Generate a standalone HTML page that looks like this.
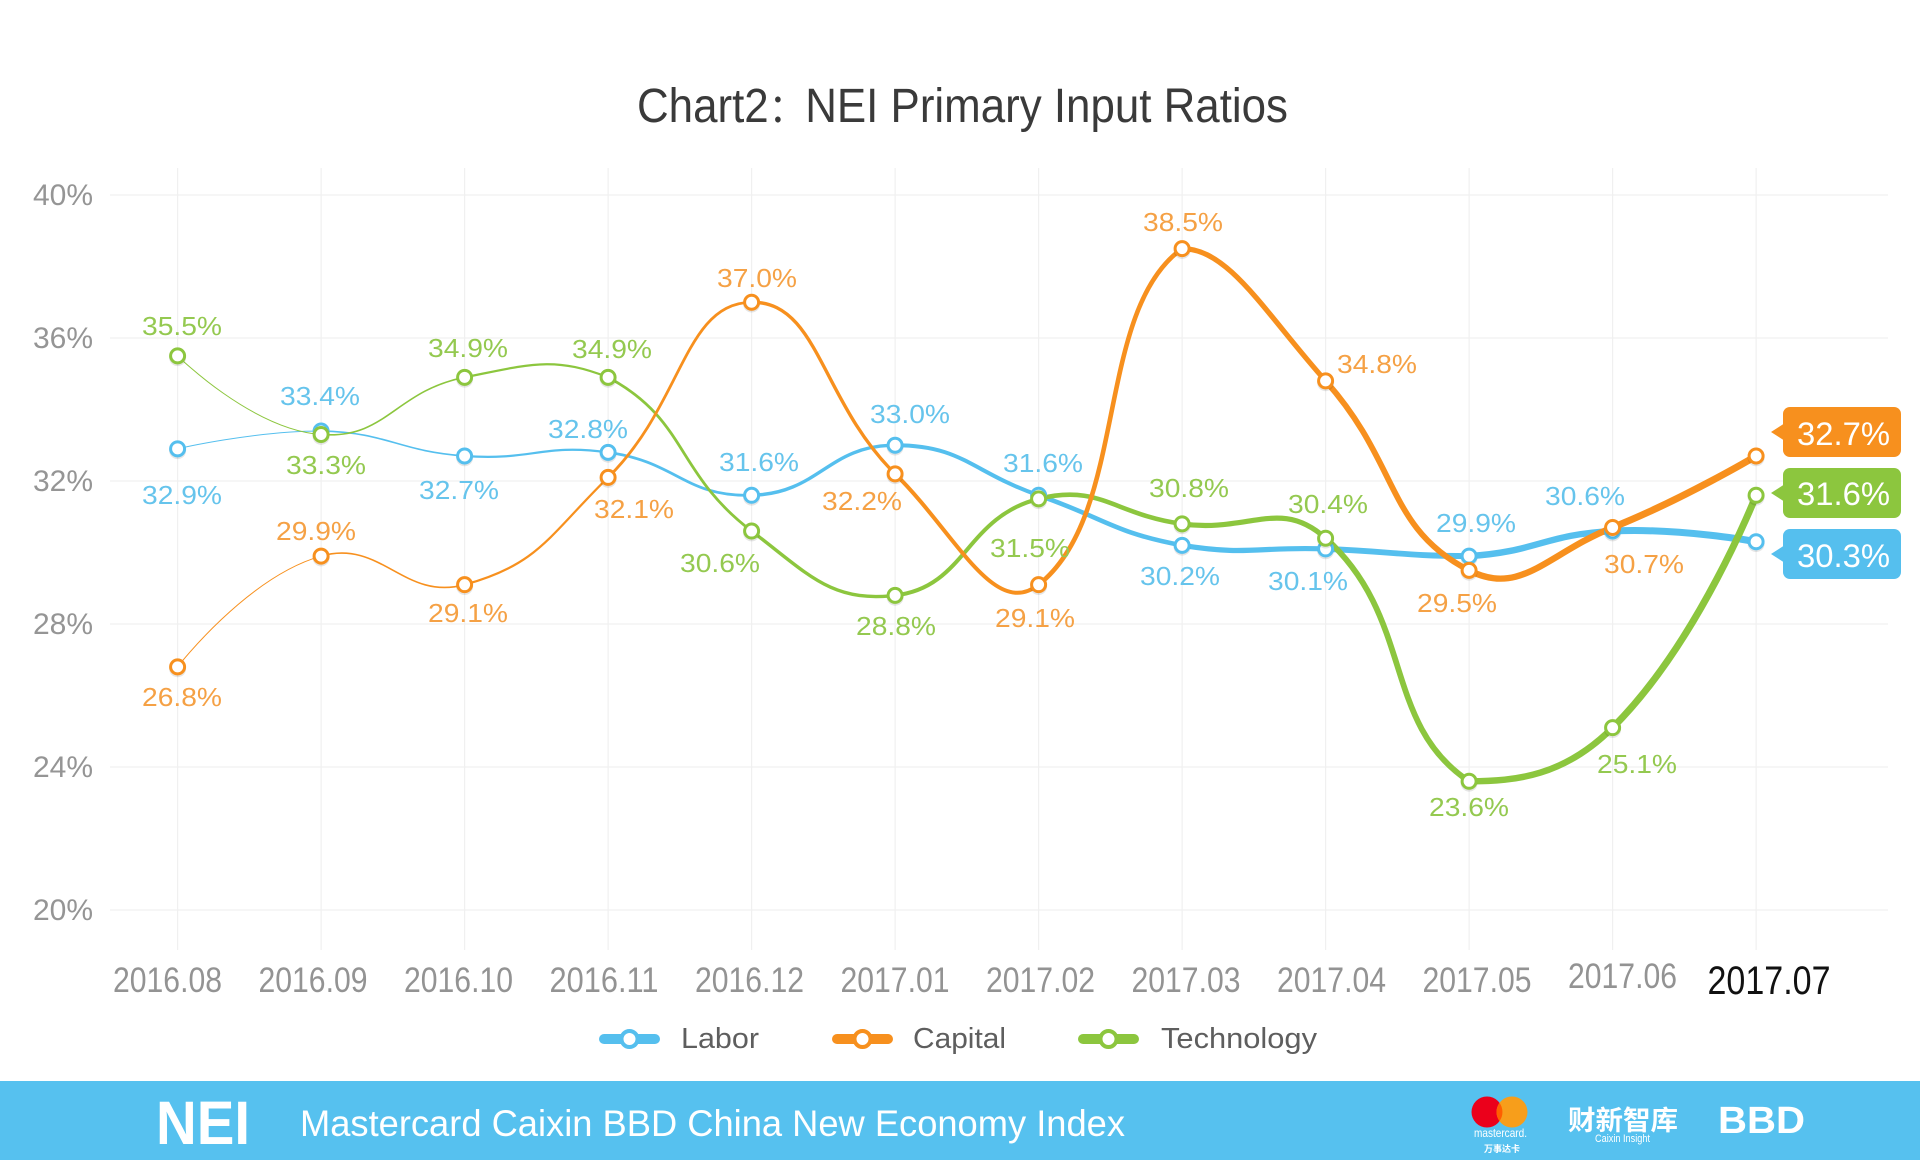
<!DOCTYPE html>
<html>
<head>
<meta charset="utf-8">
<style>
  html,body{margin:0;padding:0;background:#fff;}
  svg{display:block;}
  text{font-family:"Liberation Sans","Noto Sans CJK SC",sans-serif;}
</style>
</head>
<body>
<svg id="chart" width="1920" height="1160" viewBox="0 0 1920 1160" xmlns="http://www.w3.org/2000/svg">
  <rect x="0" y="0" width="1920" height="1160" fill="#ffffff"/>

  <!-- Title -->
  <text x="637" y="122" font-size="48" fill="#3a3a3a" textLength="651" lengthAdjust="spacingAndGlyphs">Chart2<tspan font-size="40">：</tspan>NEI Primary Input Ratios</text>

  <!-- Grid -->
  <g stroke="#f0f0f0" stroke-width="1.2" fill="none">
    <line x1="110" y1="195" x2="1888" y2="195"/>
    <line x1="110" y1="338" x2="1888" y2="338"/>
    <line x1="110" y1="481" x2="1888" y2="481"/>
    <line x1="110" y1="624" x2="1888" y2="624"/>
    <line x1="110" y1="767" x2="1888" y2="767"/>
    <line x1="110" y1="910" x2="1888" y2="910"/>
    <line x1="177.6" y1="168" x2="177.6" y2="950"/>
    <line x1="321.1" y1="168" x2="321.1" y2="950"/>
    <line x1="464.6" y1="168" x2="464.6" y2="950"/>
    <line x1="608.1" y1="168" x2="608.1" y2="950"/>
    <line x1="751.6" y1="168" x2="751.6" y2="950"/>
    <line x1="895.1" y1="168" x2="895.1" y2="950"/>
    <line x1="1038.6" y1="168" x2="1038.6" y2="950"/>
    <line x1="1182.1" y1="168" x2="1182.1" y2="950"/>
    <line x1="1325.6" y1="168" x2="1325.6" y2="950"/>
    <line x1="1469.1" y1="168" x2="1469.1" y2="950"/>
    <line x1="1612.6" y1="168" x2="1612.6" y2="950"/>
    <line x1="1756.1" y1="168" x2="1756.1" y2="950"/>
  </g>

  <!-- Y axis labels -->
  <g font-size="30" fill="#959595" text-anchor="end">
    <text x="93" y="205">40%</text>
    <text x="93" y="348">36%</text>
    <text x="93" y="491">32%</text>
    <text x="93" y="634">28%</text>
    <text x="93" y="777">24%</text>
    <text x="93" y="920">20%</text>
  </g>

  <!-- X axis labels -->
  <g font-size="35" fill="#939393" text-anchor="middle">
    <text x="167.5" y="992" textLength="109" lengthAdjust="spacingAndGlyphs">2016.08</text>
    <text x="313" y="992" textLength="109" lengthAdjust="spacingAndGlyphs">2016.09</text>
    <text x="458.5" y="992" textLength="109" lengthAdjust="spacingAndGlyphs">2016.10</text>
    <text x="604" y="992" textLength="109" lengthAdjust="spacingAndGlyphs">2016.11</text>
    <text x="749.5" y="992" textLength="109" lengthAdjust="spacingAndGlyphs">2016.12</text>
    <text x="895" y="992" textLength="109" lengthAdjust="spacingAndGlyphs">2017.01</text>
    <text x="1040.5" y="992" textLength="109" lengthAdjust="spacingAndGlyphs">2017.02</text>
    <text x="1186" y="992" textLength="109" lengthAdjust="spacingAndGlyphs">2017.03</text>
    <text x="1331.5" y="992" textLength="109" lengthAdjust="spacingAndGlyphs">2017.04</text>
    <text x="1477" y="992" textLength="109" lengthAdjust="spacingAndGlyphs">2017.05</text>
    <text x="1622.5" y="988" textLength="109" lengthAdjust="spacingAndGlyphs">2017.06</text>
  </g>
  <text x="1769" y="994" font-size="40" fill="#111111" text-anchor="middle" textLength="123" lengthAdjust="spacingAndGlyphs">2017.07</text>

  <!-- Lines drawn by script -->
  <g id="lines" fill="none" stroke-linecap="round" stroke-linejoin="round"></g>
  <g id="markers"></g>

  <!-- Data labels: Labor -->
  <g font-size="26" fill="#66c4ec" text-anchor="middle">
    <text x="182" y="504" textLength="80" lengthAdjust="spacingAndGlyphs">32.9%</text>
    <text x="320" y="405" textLength="80" lengthAdjust="spacingAndGlyphs">33.4%</text>
    <text x="459" y="499" textLength="80" lengthAdjust="spacingAndGlyphs">32.7%</text>
    <text x="588" y="438" textLength="80" lengthAdjust="spacingAndGlyphs">32.8%</text>
    <text x="759" y="471" textLength="80" lengthAdjust="spacingAndGlyphs">31.6%</text>
    <text x="910" y="423" textLength="80" lengthAdjust="spacingAndGlyphs">33.0%</text>
    <text x="1043" y="472" textLength="80" lengthAdjust="spacingAndGlyphs">31.6%</text>
    <text x="1180" y="585" textLength="80" lengthAdjust="spacingAndGlyphs">30.2%</text>
    <text x="1308" y="590" textLength="80" lengthAdjust="spacingAndGlyphs">30.1%</text>
    <text x="1476" y="532" textLength="80" lengthAdjust="spacingAndGlyphs">29.9%</text>
    <text x="1585" y="505" textLength="80" lengthAdjust="spacingAndGlyphs">30.6%</text>
  </g>
  <!-- Data labels: Capital -->
  <g font-size="26" fill="#f5a145" text-anchor="middle">
    <text x="182" y="706" textLength="80" lengthAdjust="spacingAndGlyphs">26.8%</text>
    <text x="316" y="540" textLength="80" lengthAdjust="spacingAndGlyphs">29.9%</text>
    <text x="468" y="622" textLength="80" lengthAdjust="spacingAndGlyphs">29.1%</text>
    <text x="634" y="518" textLength="80" lengthAdjust="spacingAndGlyphs">32.1%</text>
    <text x="757" y="287" textLength="80" lengthAdjust="spacingAndGlyphs">37.0%</text>
    <text x="862" y="510" textLength="80" lengthAdjust="spacingAndGlyphs">32.2%</text>
    <text x="1035" y="627" textLength="80" lengthAdjust="spacingAndGlyphs">29.1%</text>
    <text x="1183" y="231" textLength="80" lengthAdjust="spacingAndGlyphs">38.5%</text>
    <text x="1377" y="373" textLength="80" lengthAdjust="spacingAndGlyphs">34.8%</text>
    <text x="1457" y="612" textLength="80" lengthAdjust="spacingAndGlyphs">29.5%</text>
    <text x="1644" y="573" textLength="80" lengthAdjust="spacingAndGlyphs">30.7%</text>
  </g>
  <!-- Data labels: Technology -->
  <g font-size="26" fill="#94c950" text-anchor="middle">
    <text x="182" y="335" textLength="80" lengthAdjust="spacingAndGlyphs">35.5%</text>
    <text x="326" y="474" textLength="80" lengthAdjust="spacingAndGlyphs">33.3%</text>
    <text x="468" y="357" textLength="80" lengthAdjust="spacingAndGlyphs">34.9%</text>
    <text x="612" y="358" textLength="80" lengthAdjust="spacingAndGlyphs">34.9%</text>
    <text x="720" y="572" textLength="80" lengthAdjust="spacingAndGlyphs">30.6%</text>
    <text x="896" y="635" textLength="80" lengthAdjust="spacingAndGlyphs">28.8%</text>
    <text x="1030" y="557" textLength="80" lengthAdjust="spacingAndGlyphs">31.5%</text>
    <text x="1189" y="497" textLength="80" lengthAdjust="spacingAndGlyphs">30.8%</text>
    <text x="1328" y="513" textLength="80" lengthAdjust="spacingAndGlyphs">30.4%</text>
    <text x="1469" y="816" textLength="80" lengthAdjust="spacingAndGlyphs">23.6%</text>
    <text x="1637" y="773" textLength="80" lengthAdjust="spacingAndGlyphs">25.1%</text>
  </g>

  <!-- End tags -->
  <g>
    <rect x="1783" y="407" width="118" height="50" rx="7" fill="#f7901e"/>
    <polygon points="1771,432 1785,423 1785,441" fill="#f7901e"/>
    <text x="1797" y="445" font-size="32" fill="#ffffff" textLength="93" lengthAdjust="spacingAndGlyphs">32.7%</text>

    <rect x="1783" y="468" width="118" height="50" rx="7" fill="#8cc63e"/>
    <polygon points="1771,493 1785,484 1785,502" fill="#8cc63e"/>
    <text x="1797" y="505" font-size="32" fill="#ffffff" textLength="93" lengthAdjust="spacingAndGlyphs">31.6%</text>

    <rect x="1783" y="529" width="118" height="50" rx="7" fill="#55bfee"/>
    <polygon points="1771,554 1785,545 1785,563" fill="#55bfee"/>
    <text x="1797" y="567" font-size="32" fill="#ffffff" textLength="93" lengthAdjust="spacingAndGlyphs">30.3%</text>
  </g>

  <!-- Legend -->
  <g>
    <rect x="599" y="1034" width="61" height="10" rx="5" fill="#55bfee"/>
    <circle cx="629.5" cy="1040.5" r="8" fill="rgba(0,0,0,0.12)"/>
    <circle cx="629.5" cy="1039" r="8" fill="#ffffff" stroke="#55bfee" stroke-width="4"/>
    <text x="681" y="1048" font-size="29" fill="#5e5e5e" textLength="78" lengthAdjust="spacingAndGlyphs">Labor</text>

    <rect x="832" y="1034" width="61" height="10" rx="5" fill="#f7901e"/>
    <circle cx="862.5" cy="1040.5" r="8" fill="rgba(0,0,0,0.12)"/>
    <circle cx="862.5" cy="1039" r="8" fill="#ffffff" stroke="#f7901e" stroke-width="4"/>
    <text x="913" y="1048" font-size="29" fill="#5e5e5e" textLength="93" lengthAdjust="spacingAndGlyphs">Capital</text>

    <rect x="1078" y="1034" width="61" height="10" rx="5" fill="#8cc63e"/>
    <circle cx="1108.5" cy="1040.5" r="8" fill="rgba(0,0,0,0.12)"/>
    <circle cx="1108.5" cy="1039" r="8" fill="#ffffff" stroke="#8cc63e" stroke-width="4"/>
    <text x="1161" y="1048" font-size="29" fill="#5e5e5e" textLength="156" lengthAdjust="spacingAndGlyphs">Technology</text>
  </g>

  <!-- Footer -->
  <rect x="0" y="1081" width="1920" height="79" fill="#56c1ef"/>
  <text x="156" y="1144" font-size="61" font-weight="bold" fill="#ffffff" textLength="94" lengthAdjust="spacingAndGlyphs">NEI</text>
  <text x="300" y="1136" font-size="37" fill="#ffffff" textLength="825" lengthAdjust="spacingAndGlyphs">Mastercard Caixin BBD China New Economy Index</text>

  <circle cx="1487" cy="1112" r="15.5" fill="#eb001b"/>
  <circle cx="1512" cy="1112" r="15.5" fill="#f79e1b"/>
  <path d="M1499.5,1102.9 A15.5,15.5 0 0 1 1499.5,1121.1 A15.5,15.5 0 0 1 1499.5,1102.9 Z" fill="#ff5f00"/>
  <text x="1474" y="1137" font-size="12" fill="#ffffff" textLength="53" lengthAdjust="spacingAndGlyphs">mastercard.</text>
  <text x="1484" y="1152" font-size="9" font-weight="bold" fill="#ffffff" textLength="36" lengthAdjust="spacingAndGlyphs">万事达卡</text>

  <text x="1568" y="1130" font-size="27" font-weight="bold" fill="#ffffff" textLength="110" lengthAdjust="spacingAndGlyphs">财新智库</text>
  <text x="1595" y="1142" font-size="11" fill="#ffffff" textLength="55" lengthAdjust="spacingAndGlyphs">Caixin Insight</text>

  <text x="1718" y="1133" font-size="38" font-weight="bold" fill="#ffffff" textLength="87" lengthAdjust="spacingAndGlyphs">BBD</text>
</svg>

<script>
(function(){
  var NS = "http://www.w3.org/2000/svg";
  var X = function(i){ return 177.6 + 143.5*i; };
  var Y = function(v){ return 195 + (40 - v)*35.75; };
  var series = [
    {c:"#55bfee", v:[32.9,33.4,32.7,32.8,31.6,33.0,31.6,30.2,30.1,29.9,30.6,30.3]},
    {c:"#8cc63e", v:[35.5,33.3,34.9,34.9,30.6,28.8,31.5,30.8,30.4,23.6,25.1,31.6]},
    {c:"#f7901e", v:[26.8,29.9,29.1,32.1,37.0,32.2,29.1,38.5,34.8,29.5,30.7,32.7]}
  ];
  var s = 0.47;
  var lines = document.getElementById("lines");
  var markers = document.getElementById("markers");
  series.forEach(function(se){
    var P = se.v.map(function(v,i){ return [X(i), Y(v)]; });
    var minX=1e9,maxX=-1e9,minY=1e9,maxY=-1e9;
    P.forEach(function(p){minX=Math.min(minX,p[0]);maxX=Math.max(maxX,p[0]);minY=Math.min(minY,p[1]);maxY=Math.max(maxY,p[1]);});
    function clamp(p){ return [Math.min(maxX,Math.max(minX,p[0])), Math.min(maxY,Math.max(minY,p[1]))]; }
    var cp0 = P[0].slice();
    for (var i=1;i<P.length;i++){
      var p=P[i], prev=P[i-1], next=P[i+1], cp1, ncp0;
      if(!next){ cp1 = p.slice(); }
      else {
        var vx=next[0]-prev[0], vy=next[1]-prev[1];
        var lp=Math.hypot(p[0]-prev[0],p[1]-prev[1]);
        var ln=Math.hypot(next[0]-p[0],next[1]-p[1]);
        var r=ln/(ln+lp);
        cp1=clamp([p[0]-vx*s*(1-r), p[1]-vy*s*(1-r)]);
        ncp0=clamp([p[0]+vx*s*r, p[1]+vy*s*r]);
      }
      var path=document.createElementNS(NS,"path");
      path.setAttribute("d","M"+prev[0]+","+prev[1]+" C"+cp0[0]+","+cp0[1]+" "+cp1[0]+","+cp1[1]+" "+p[0]+","+p[1]);
      path.setAttribute("stroke",se.c);
      path.setAttribute("stroke-width",(1+0.6*(i-1)).toFixed(2));
      lines.appendChild(path);
      cp0=ncp0;
    }
    P.forEach(function(p){
      var sh=document.createElementNS(NS,"circle");
      sh.setAttribute("cx",p[0]); sh.setAttribute("cy",p[1]+1.8); sh.setAttribute("r","8.5");
      sh.setAttribute("fill","rgba(0,0,0,0.10)");
      markers.appendChild(sh);
      var c=document.createElementNS(NS,"circle");
      c.setAttribute("cx",p[0]); c.setAttribute("cy",p[1]); c.setAttribute("r","7");
      c.setAttribute("fill","#ffffff"); c.setAttribute("stroke",se.c); c.setAttribute("stroke-width","3");
      markers.appendChild(c);
    });
  });
})();
</script>
</body>
</html>
